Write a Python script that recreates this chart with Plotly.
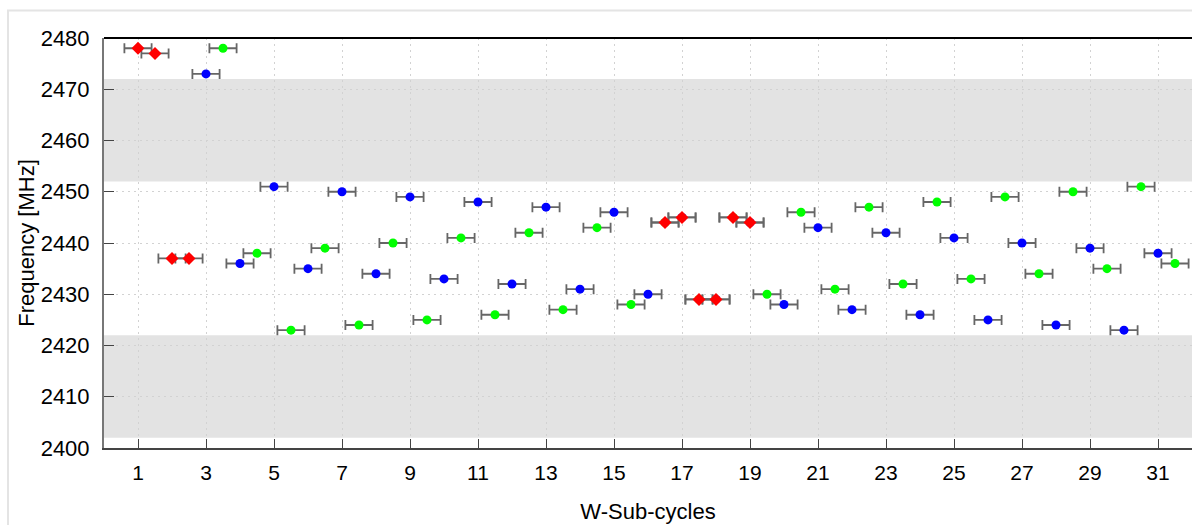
import plotly.graph_objects as go

# ---- data ----
blue_x = [3, 4, 5, 6, 7, 8, 9, 10, 11, 12, 13, 14, 15, 16, 17, 18, 19, 20, 21, 22, 23, 24, 25, 26, 27, 28, 29, 30, 31]
blue_y = [2473, 2436, 2451, 2435, 2450, 2434, 2449, 2433, 2448, 2432, 2447, 2431, 2446, 2430, 2445, 2429, 2444,
          2428, 2443, 2427, 2442, 2426, 2441, 2425, 2440, 2424, 2439, 2423, 2438]

green_x = [3.5, 4.5, 5.5, 6.5, 7.5, 8.5, 9.5, 10.5, 11.5, 12.5, 13.5, 14.5, 15.5, 16.5, 17.5, 18.5, 19.5,
           20.5, 21.5, 22.5, 23.5, 24.5, 25.5, 26.5, 27.5, 28.5, 29.5, 30.5, 31.5]
green_y = [2478, 2438, 2423, 2439, 2424, 2440, 2425, 2441, 2426, 2442, 2427, 2443, 2428, 2444, 2429, 2445, 2430,
           2446, 2431, 2447, 2432, 2448, 2433, 2449, 2434, 2450, 2435, 2451, 2436]

red_x = [1, 1.5, 2, 2.5, 16.5, 17, 17.5, 18, 18.5, 19]
red_y = [2478, 2477, 2437, 2437, 2444, 2445, 2429, 2429, 2445, 2444]

x_err = 0.4
bands = [(2402, 2422), (2452, 2472)]
x_ticks = list(range(1, 32, 2))
y_ticks = list(range(2400, 2481, 10))
x_title = "W-Sub-cycles"
y_title = "Frequency [MHz]"

FONT = "Liberation Sans, Arial, sans-serif"
W, H = 1192, 525
ML, MR, MT, MB = 104, 0, 38, 77

fig = go.Figure()

def add_series(xs, ys, color, symbol, size):
    fig.add_trace(go.Scatter(
        x=xs, y=ys, mode="markers",
        marker=dict(color=color, symbol=symbol, size=size, line=dict(width=0)),
        error_x=dict(type="constant", value=x_err, color="#666666", thickness=1.8, width=5),
        showlegend=False, hoverinfo="x+y"))

add_series(blue_x, blue_y, "#0000ff", "circle", 9)
add_series(green_x, green_y, "#00ff00", "circle", 9)
add_series(red_x, red_y, "#ff0000", "diamond", 10)

for y0, y1 in bands:
    fig.add_shape(type="rect", xref="paper", yref="y", x0=0, x1=1, y0=y0, y1=y1,
                  fillcolor="#e3e3e3", line=dict(width=0), layer="between")

# top border of plot
fig.add_shape(type="line", xref="paper", yref="paper", x0=0, x1=1, y0=1, y1=1,
              line=dict(color="black", width=2), layer="above")

# outer light frame
pw = W - ML - MR
ph = H - MT - MB
fig.add_shape(type="rect", xref="paper", yref="paper",
              x0=(8 - ML) / pw, x1=1.05, y0=-0.3, y1=1 + (MT - 10.5) / ph,
              line=dict(color="#e4e4e4", width=2), fillcolor="rgba(0,0,0,0)", layer="below")

fig.update_layout(
    width=W, height=H,
    margin=dict(l=ML, r=MR, t=MT, b=MB, pad=0),
    paper_bgcolor="white", plot_bgcolor="white",
    font=dict(family=FONT, color="black", size=21),
    showlegend=False,
)

fig.update_xaxes(
    range=[0, 32], tickvals=x_ticks, ticks="inside", ticklen=9, tickwidth=1.3, tickcolor="#444444",
    showline=True, linecolor="#444444", linewidth=2,
    showgrid=True, gridcolor="#d2d2d2", griddash="2px,4px", gridwidth=1,
    zeroline=False, tickfont=dict(size=21, family=FONT), ticklabelstandoff=5,
    title=dict(text=x_title, font=dict(size=22, family=FONT), standoff=20),
)
fig.update_yaxes(
    range=[2400, 2480], tickvals=y_ticks, ticks="inside", ticklen=10, tickwidth=1.3, tickcolor="#444444",
    showline=True, linecolor="#777777", linewidth=2,
    showgrid=True, gridcolor="#d2d2d2", griddash="2px,4px", gridwidth=1,
    zeroline=False, tickfont=dict(size=22, family=FONT), ticklabelstandoff=8,
    title=dict(text=y_title, font=dict(size=22, family=FONT), standoff=0),
)

fig.write_html("out.html")
